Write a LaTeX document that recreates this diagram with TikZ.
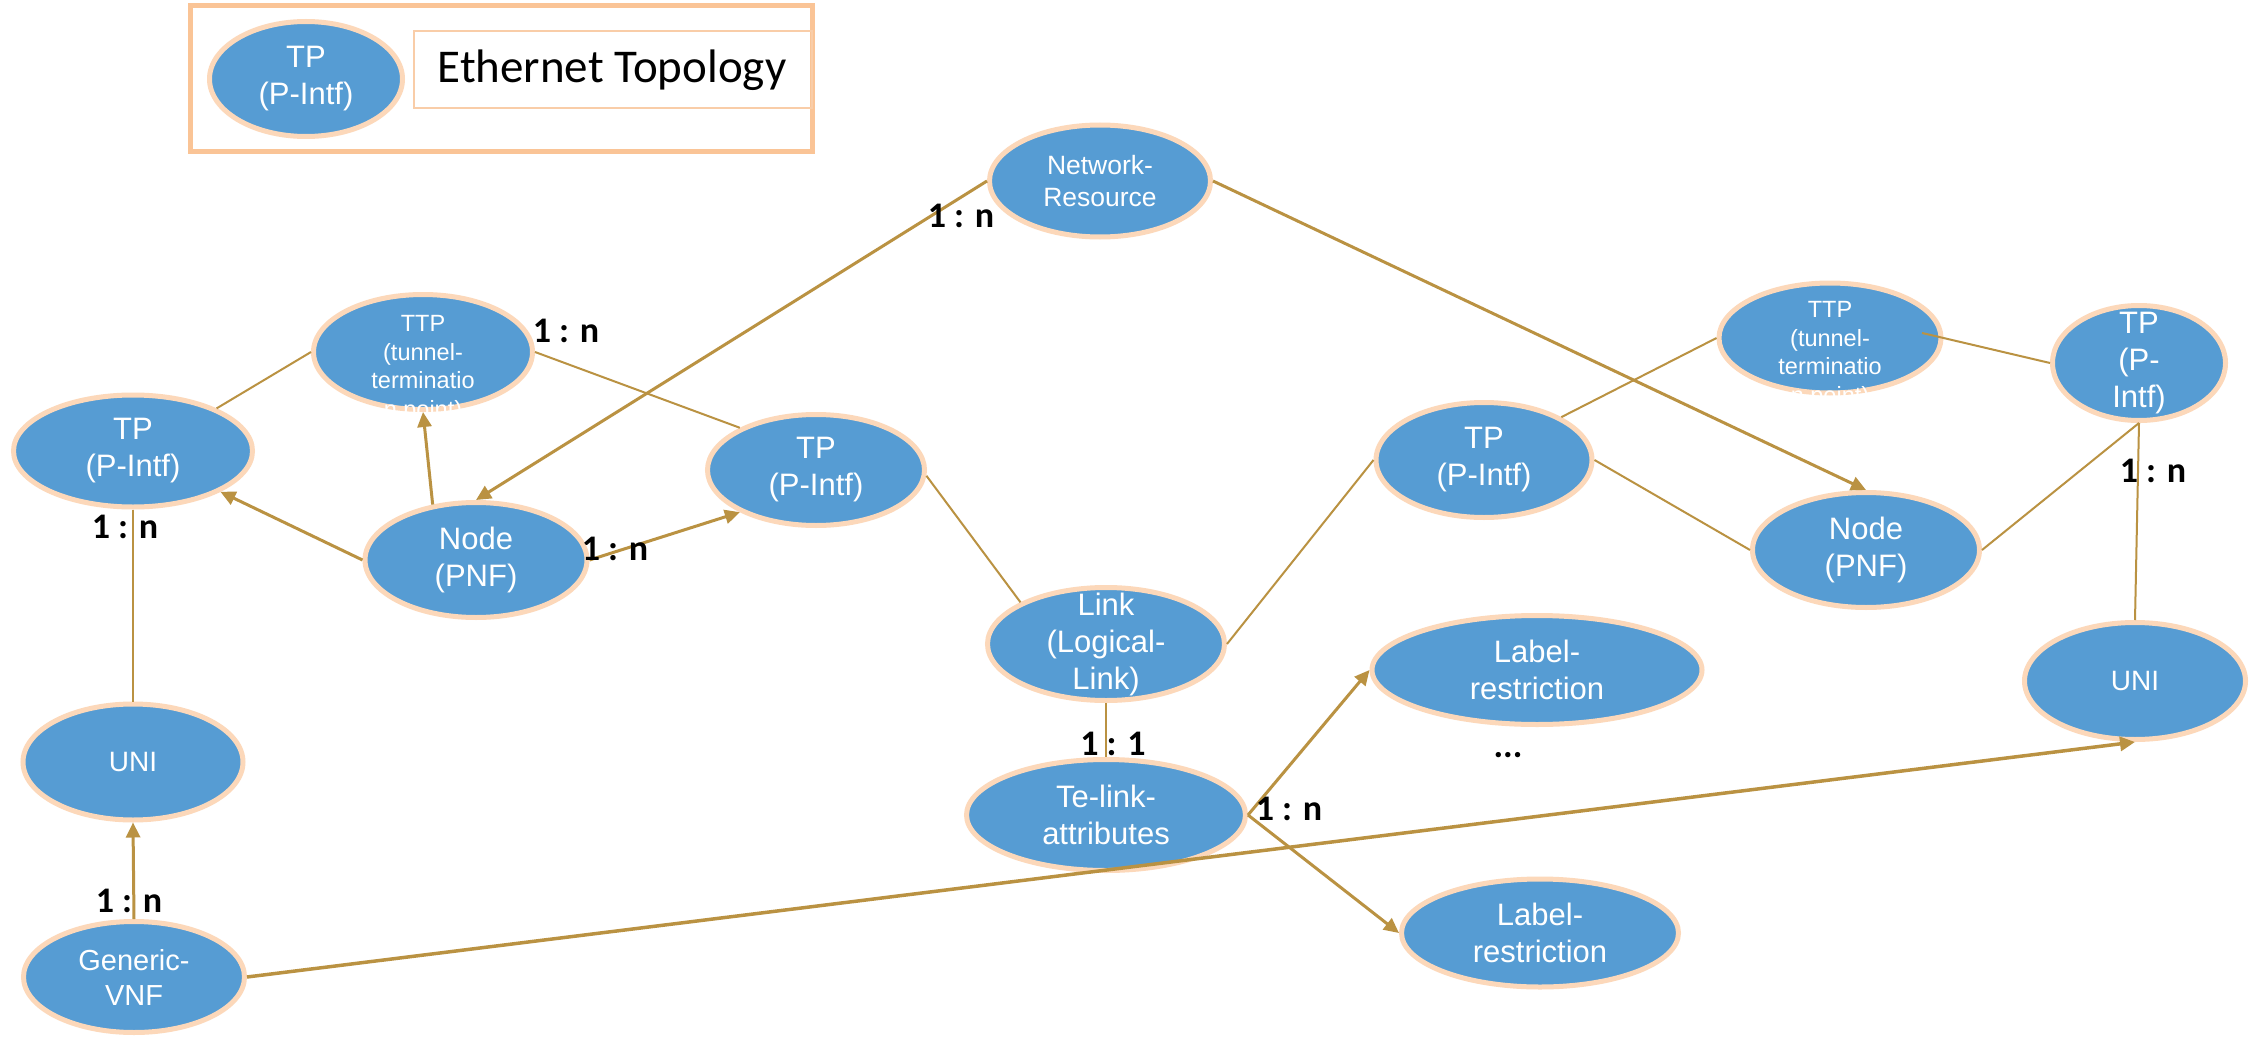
\documentclass[tikz,border=0pt]{standalone}
\usepackage{fontspec}
\setmainfont{Liberation Sans}
\newfontfamily\carlito{Carlito}
\usetikzlibrary{arrows.meta,shapes.geometric}

\definecolor{nodeblue}{RGB}{86,156,211}
\definecolor{nodering}{RGB}{252,216,186}
\definecolor{linkgold}{RGB}{186,146,66}
\definecolor{frameorange}{RGB}{250,196,150}
\definecolor{framelight}{RGB}{249,205,168}

\begin{document}
\begin{tikzpicture}[x=1pt,y=-1pt,
  ent/.style 2 args={ellipse, fill=nodeblue, draw=nodering, line width=5pt,
    inner sep=0pt, minimum width=#1, minimum height=#2},
  wtxt/.style={text=white, align=center, inner sep=0pt},
  t31/.style={wtxt, font=\fontsize{31}{37}\selectfont},
  t29/.style={wtxt, font=\fontsize{29}{35}\selectfont},
  t28/.style={wtxt, font=\fontsize{28}{34}\selectfont},
  t26/.style={wtxt, font=\fontsize{26.5}{32}\selectfont},
  t23/.style={wtxt, font=\fontsize{23.5}{28.7}\selectfont},
  rel/.style={draw=linkgold, line width=2pt},
  dep/.style={draw=linkgold, line width=3pt, -{Triangle[length=15pt,width=14pt]}},
  card/.style={font=\carlito\bfseries\fontsize{36}{36}\selectfont, anchor=base, inner sep=0pt},
]
% canvas
\fill[white] (0,0) rectangle (2252,1038);
\useasboundingbox (0,0) rectangle (2252,1038);

% legend frame
\draw[frameorange, line width=5pt] (190,6) rectangle (812,152);
\draw[framelight, line width=2pt] (414,31) rectangle (812,108);
\node[ent={193pt}{115pt}] (legTP) at (306,79) {};
\node[t31] at (legTP) {TP\\(P-Intf)};
\node[font=\carlito\fontsize{47}{47}\selectfont, anchor=base, inner sep=0pt] (legtxt) at (612,83) {Ethernet Topology};

% entities
\node[ent={221pt}{112pt}] (NR)    at (1100,181) {};
\node[ent={219pt}{115pt}] (ttpL)  at (423,352)  {};
\node[ent={239pt}{112pt}] (tpL)   at (133,451)  {};
\node[ent={222pt}{115pt}] (nodeL) at (476,560)  {};
\node[ent={217pt}{111pt}] (tpM)   at (816,470)  {};
\node[ent={237pt}{113pt}] (link)  at (1106,644) {};
\node[ent={279pt}{111pt}] (tel)   at (1106,815) {};
\node[ent={222pt}{110pt}] (ttpR)  at (1830,338) {};
\node[ent={216pt}{115pt}] (tpRC)  at (1484,460) {};
\node[ent={173pt}{115pt}] (tpFR)  at (2139,363) {};
\node[ent={227pt}{115pt}] (nodeR) at (1866,550) {};
\node[ent={221pt}{117pt}] (uniR)  at (2135,681) {};
\node[ent={330pt}{109pt}] (lrT)   at (1537,670) {};
\node[ent={277pt}{108pt}] (lrB)   at (1540,933) {};
\node[ent={220pt}{116pt}] (uniL)  at (133,762)  {};
\node[ent={221pt}{111pt}] (gen)   at (134,977)  {};

% entity captions
\node[t26] at (NR) {Network-\\Resource};
\node[t23, yshift=-17pt] at (ttpL) {TTP\\(tunnel-\\terminatio\\n point)};
\node[t31] at (tpL) {TP\\(P-Intf)};
\node[t31] at (nodeL) {Node\\(PNF)};
\node[t31] at (tpM) {TP\\(P-Intf)};
\node[t31] at (link) {Link\\(Logical-\\Link)};
\node[t31] at (tel) {Te-link-\\attributes};
\node[t23, yshift=-17pt] at (ttpR) {TTP\\(tunnel-\\terminatio\\n point)};
\node[t31] at (tpRC) {TP\\(P-Intf)};
\node[t31] at (tpFR) {TP\\(P-\\Intf)};
\node[t31] at (nodeR) {Node\\(PNF)};
\node[t28] at (uniR) {UNI};
\node[t31] at (lrT) {Label-\\restriction};
\node[t31] at (lrB) {Label-\\restriction};
\node[t28] at (uniL) {UNI};
\node[t29] at (gen) {Generic-\\VNF};

% plain associations
\draw[rel] (tpL.27) -- (ttpL.west);
\draw[rel] (ttpL.east) -- (tpM.151);
\draw[rel] (tpM.-3) -- (link.154);
\draw[rel] (link.east) -- (tpRC.west);
\draw[rel] (tpRC.29) -- (ttpR.west);
\draw[rel, shorten <=-22pt] (ttpR.east) -- (tpFR.west);
\draw[rel] (tpRC.east) -- (nodeR.west);
\draw[rel] (nodeR.east) -- (tpFR.south);
\draw[rel] (tpFR.south) -- (uniR.north);
\draw[rel] (link.south) -- (tel.north);
\draw[rel] (tpL.south) -- (uniL.north);

% directed associations
\draw[dep] (nodeL.128) -- (ttpL.south);
\draw[dep] (nodeL.west) -- (tpL.-25);
\draw[dep] (nodeL.east) -- (tpM.209);
\draw[dep] (NR.west) -- (nodeL.north);
\draw[dep] (NR.east) -- (nodeR.north);
\draw[dep] (tel.east) -- (lrT.west);
\draw[dep] (tel.east) -- (lrB.west);
\draw[dep, line width=3.5pt] (gen.east) -- (uniR.south);
\draw[dep] (gen.north) -- (uniL.south);

% cardinalities
\node[card] (c1) at (961,227)  {1 : n};
\node[card] (c2) at (566,342)  {1 : n};
\node[card] (c3) at (125,538)  {1 : n};
\node[card] (c4) at (615,560)  {1 : n};
\node[card] (c5) at (2153,482) {1 : n};
\node[card] (c6) at (1113,755) {1 : 1};
\node[card] (c7) at (1289,820) {1 : n};
\node[card] (c8) at (129,912)  {1 : n};
\node[card] (more) at (1508,757) {...};
\end{tikzpicture}
\end{document}
